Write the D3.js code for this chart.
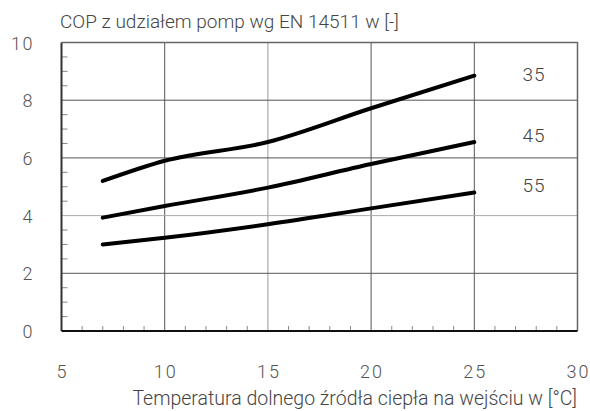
<!DOCTYPE html>
<html lang="pl">
  <head>
    <meta charset="utf-8" />
    <title>COP z udziałem pomp</title>
    <script src="https://d3js.org/d3.v7.min.js"></script>
    <style>
      body { margin: 0; background: #fff; }
      svg text { font-family: Roboto, "Liberation Sans", sans-serif; font-weight: 300; }
    </style>
  </head>
  <body>
    <div id="chart"></div>
    <script>
      // source temperature [°C]
      const temps = [7, 10, 15, 20, 25];
      // COP per supply temperature
      const cop35 = [5.2, 5.9, 6.55, 7.72, 8.85];
      const cop45 = [3.93, 4.33, 4.97, 5.79, 6.55];
      const cop55 = [3.0, 3.23, 3.7, 4.25, 4.8];
      const seriesNames = ["35", "45", "55"];
      const xTicks = [5, 10, 15, 20, 25, 30];
      const yTicks = [0, 2, 4, 6, 8, 10];

      const series = [cop35, cop45, cop55].map((vals, i) => ({
        name: seriesNames[i],
        points: temps.map((t, j) => [t, vals[j]]),
      }));

      const width = 590;
      const height = 411;
      const marginLeft = 61.5;
      const marginRight = 12.5;
      const marginTop = 42.5;
      const marginBottom = 80;

      const x = d3.scaleLinear().domain([5, 30]).range([marginLeft, width - marginRight]);
      const y = d3.scaleLinear().domain([0, 10]).range([height - marginBottom, marginTop]);

      const svg = d3
        .select("#chart")
        .append("svg")
        .attr("width", width)
        .attr("height", height);

      // grid
      svg
        .append("g")
        .selectAll("line")
        .data([10, 15, 20, 25])
        .join("line")
        .attr("x1", (d) => x(d))
        .attr("x2", (d) => x(d))
        .attr("y1", y(0))
        .attr("y2", y(10))
        .attr("stroke", (d) => (d === 15 ? "#999" : "#555"))
        .attr("stroke-width", 1);

      svg
        .append("g")
        .selectAll("line")
        .data([2, 4, 6, 8])
        .join("line")
        .attr("x1", x(5))
        .attr("x2", x(30))
        .attr("y1", (d) => y(d))
        .attr("y2", (d) => y(d))
        .attr("stroke", (d) => (d === 4 ? "#aaa" : "#555"))
        .attr("stroke-width", 1);

      // frame top / right
      svg
        .append("path")
        .attr("d", `M${x(5)},${y(10)}H${x(30)}V${y(0)}`)
        .attr("fill", "none")
        .attr("stroke", "#666")
        .attr("stroke-width", 1.5);

      // minor ticks
      svg
        .append("g")
        .selectAll("line")
        .data(d3.range(6, 30, 1).filter((d) => d % 5 !== 0))
        .join("line")
        .attr("x1", (d) => x(d))
        .attr("x2", (d) => x(d))
        .attr("y1", y(0))
        .attr("y2", y(0) - 5)
        .attr("stroke", "#888");

      svg
        .append("g")
        .selectAll("line")
        .data(d3.range(0.5, 10, 0.5).filter((d) => d % 2 !== 0))
        .join("line")
        .attr("x1", x(5))
        .attr("x2", x(5) + 6)
        .attr("y1", (d) => y(d))
        .attr("y2", (d) => y(d))
        .attr("stroke", "#888");

      // axes lines
      svg
        .append("line")
        .attr("x1", x(5))
        .attr("x2", x(5))
        .attr("y1", y(0))
        .attr("y2", y(10))
        .attr("stroke", "#333")
        .attr("stroke-width", 2);

      svg
        .append("line")
        .attr("x1", x(5))
        .attr("x2", x(30))
        .attr("y1", y(0))
        .attr("y2", y(0))
        .attr("stroke", "#111")
        .attr("stroke-width", 2);

      // tick labels
      svg
        .append("g")
        .selectAll("text")
        .data(yTicks)
        .join("text")
        .attr("x", 34)
        .attr("y", (d) => y(d) + 7)
        .attr("text-anchor", "end")
        .attr("font-size", 18)
        .attr("letter-spacing", 1.5)
        .attr("fill", "#555")
        .text((d) => d);

      svg
        .append("g")
        .selectAll("text")
        .data(xTicks)
        .join("text")
        .attr("x", (d) => x(d) + 1)
        .attr("y", 378)
        .attr("text-anchor", "middle")
        .attr("font-size", 18)
        .attr("letter-spacing", 2)
        .attr("fill", "#555")
        .text((d) => d);

      // curves
      const line = d3
        .line()
        .x((d) => x(d[0]))
        .y((d) => y(d[1]))
        .curve(d3.curveMonotoneX);

      svg
        .append("g")
        .selectAll("path")
        .data(series)
        .join("path")
        .attr("d", (d) => line(d.points))
        .attr("fill", "none")
        .attr("stroke", "#000")
        .attr("stroke-width", 4)
        .attr("stroke-linecap", "round");

      // series labels
      const labelY = { "35": 8.9, "45": 6.8, "55": 5.05 };
      svg
        .append("g")
        .selectAll("text")
        .data(series)
        .join("text")
        .attr("x", 534)
        .attr("y", (d) => y(labelY[d.name]) + 7)
        .attr("text-anchor", "middle")
        .attr("font-size", 19)
        .attr("letter-spacing", 1)
        .attr("fill", "#444")
        .text((d) => d.name);

      // titles
      svg
        .append("text")
        .attr("x", 60)
        .attr("y", 28)
        .attr("font-size", 19)
        .attr("fill", "#444")
        .text("COP z udziałem pomp wg EN 14511 w [-]");

      svg
        .append("text")
        .attr("x", 577)
        .attr("y", 405)
        .attr("text-anchor", "end")
        .attr("font-size", 19.5)
        .attr("fill", "#444")
        .text("Temperatura dolnego źródła ciepła na wejściu w [°C]");
    </script>
  </body>
</html>
